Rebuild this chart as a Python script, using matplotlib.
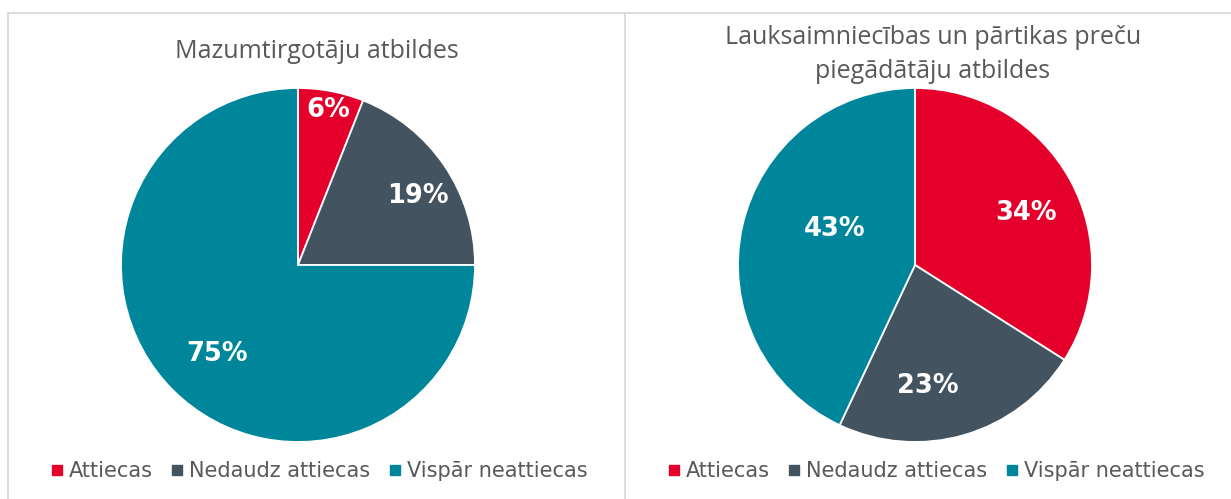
import matplotlib
matplotlib.use('Agg')
import matplotlib.pyplot as plt
from matplotlib.lines import Line2D
import numpy as np

categories = ['Attiecas', 'Nedaudz attiecas', 'Vispār neattiecas']
retail = [6, 19, 75]
suppliers = [34, 23, 43]
titles = [['Mazumtirgotāju atbildes'],
          ['Lauksaimniecības un pārtikas preču', 'piegādātāju atbildes']]
colors = ['#E4002B', '#43535F', '#00869B']

# label placement (radius fraction, angle in degrees) - mimics Excel "best fit"
label_pos = [
    [(0.89, 79), (0.78, 30), (0.68, -132)],
    [(0.69, 25), (0.69, -84), (0.50, 156)],
]

W, H = 1231, 499
fig = plt.figure(figsize=(W / 100, H / 100), dpi=100)
fig.patch.set_facecolor('white')

GRAY = '#595959'
TFONT = ['Open Sans', 'DejaVu Sans']

centers = [(298, 265), (915, 265)]
R = 177
title_x = [317, 933]
title_base = [[58], [44, 78]]
legend_x = [320, 937]

for k, (vals, (cx, cy)) in enumerate(zip([retail, suppliers], centers)):
    ax = fig.add_axes([(cx - R) / W, (H - cy - R) / H, 2 * R / W, 2 * R / H])
    wedges, _ = ax.pie(vals, colors=colors, startangle=90, counterclock=False,
                       radius=1.0,
                       wedgeprops=dict(edgecolor='white', linewidth=1.3))
    ax.set_xlim(-1, 1)
    ax.set_ylim(-1, 1)
    ax.set_aspect('equal')
    ax.axis('off')
    for v, (r, ang) in zip(vals, label_pos[k]):
        a = np.deg2rad(ang)
        ax.text(r * np.cos(a), r * np.sin(a), f'{v}%', ha='center', va='center',
                color='white', fontsize=18.5, fontweight='bold', family='DejaVu Sans')

    # title
    for line, yb in zip(titles[k], title_base[k]):
        fig.text(title_x[k] / W, 1 - yb / H, line, ha='center', va='baseline',
                 fontsize=18, color=GRAY, family=TFONT)

    handles = [Line2D([], [], marker='s', linestyle='none', markersize=6.5,
                      markerfacecolor=c, markeredgecolor=c) for c in colors]
    fig.legend(handles, categories, loc='center', ncol=3,
               bbox_to_anchor=(legend_x[k] / W, 1 - 471 / H),
               frameon=False, handlelength=0.45, handletextpad=0.35,
               columnspacing=0.95, borderpad=0, borderaxespad=0,
               prop=dict(family='DejaVu Sans', size=15),
               labelcolor=GRAY)

# panel borders
border = '#D9D9D9'
fig.add_artist(Line2D([7.5 / W, 1], [1 - 12.5 / H, 1 - 12.5 / H], color=border, lw=1.3))
fig.add_artist(Line2D([7.5 / W, 7.5 / W], [0, 1 - 12.5 / H], color=border, lw=1.3))
fig.add_artist(Line2D([625 / W, 625 / W], [0, 1 - 12.5 / H], color=border, lw=1.3))

fig.savefig('out.png', dpi=100)
